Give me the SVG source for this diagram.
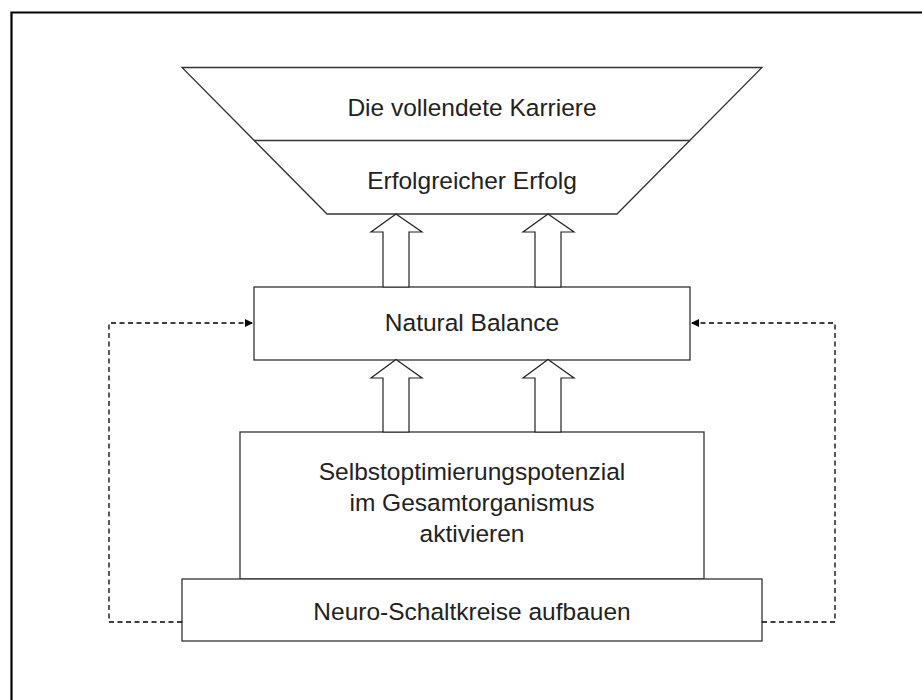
<svg xmlns="http://www.w3.org/2000/svg" width="922" height="700" viewBox="0 0 922 700">
<defs>
<style>
.shape{fill:#fff;stroke:#333;stroke-width:1.3}
.lbl{font-family:"Liberation Sans",Arial,sans-serif;font-size:24.5px;fill:#222;text-anchor:middle}
.dash{fill:none;stroke:#000;stroke-width:1.3;stroke-dasharray:5,3.5}
.bigarrow{fill:#fff;stroke:#222;stroke-width:1.2}
</style>
<marker id="ah" viewBox="0 0 10 10" refX="10" refY="5" markerWidth="8" markerHeight="8" markerUnits="userSpaceOnUse" orient="auto">
<path d="M0,0 L10,5 L0,10 z" fill="#000"/>
</marker>
</defs>
<rect x="0" y="0" width="922" height="700" fill="#fff"/>
<path d="M11.5,700 L11.5,12.5 L922,12.5" fill="none" stroke="#000" stroke-width="2.2"/>

<g id="funnel">
<path class="shape" d="M182,67.5 L762,67.5 L617,214 L327,214 Z"/>
<line x1="254" y1="140.5" x2="690" y2="140.5" stroke="#333" stroke-width="1.3"/>
<text class="lbl" x="472" y="116">Die vollendete Karriere</text>
<text class="lbl" x="472" y="189">Erfolgreicher Erfolg</text>
</g>

<g id="natural-balance">
<rect class="shape" x="254" y="287" width="436" height="73"/>
<text class="lbl" x="472" y="331">Natural Balance</text>
</g>

<g id="selbstoptimierung">
<rect class="shape" x="240" y="432" width="464" height="147"/>
<text class="lbl" x="472" y="480">Selbstoptimierungspotenzial</text>
<text class="lbl" x="472" y="511">im Gesamtorganismus</text>
<text class="lbl" x="472" y="542">aktivieren</text>
</g>

<g id="neuro">
<rect class="shape" x="182" y="579" width="580" height="62"/>
<text class="lbl" x="472" y="620">Neuro-Schaltkreise aufbauen</text>
</g>

<g id="connectors">
<path class="bigarrow" d="M383,287 L383,232 L371,232 L396,214 L422,232 L409,232 L409,287 Z"/>
<path class="bigarrow" d="M535,287 L535,232 L523,232 L548,214 L574,232 L561,232 L561,287 Z"/>
<path class="bigarrow" d="M383,432 L383,378 L371,378 L396,359.5 L422,378 L409,378 L409,432 Z"/>
<path class="bigarrow" d="M535,432 L535,378 L523,378 L548,359.5 L574,378 L561,378 L561,432 Z"/>
<path class="dash" d="M182,622 L109,622 L109,323 L253,323" marker-end="url(#ah)"/>
<path class="dash" d="M762,622 L835,622 L835,323 L691,323" marker-end="url(#ah)"/>
</g>
</svg>
